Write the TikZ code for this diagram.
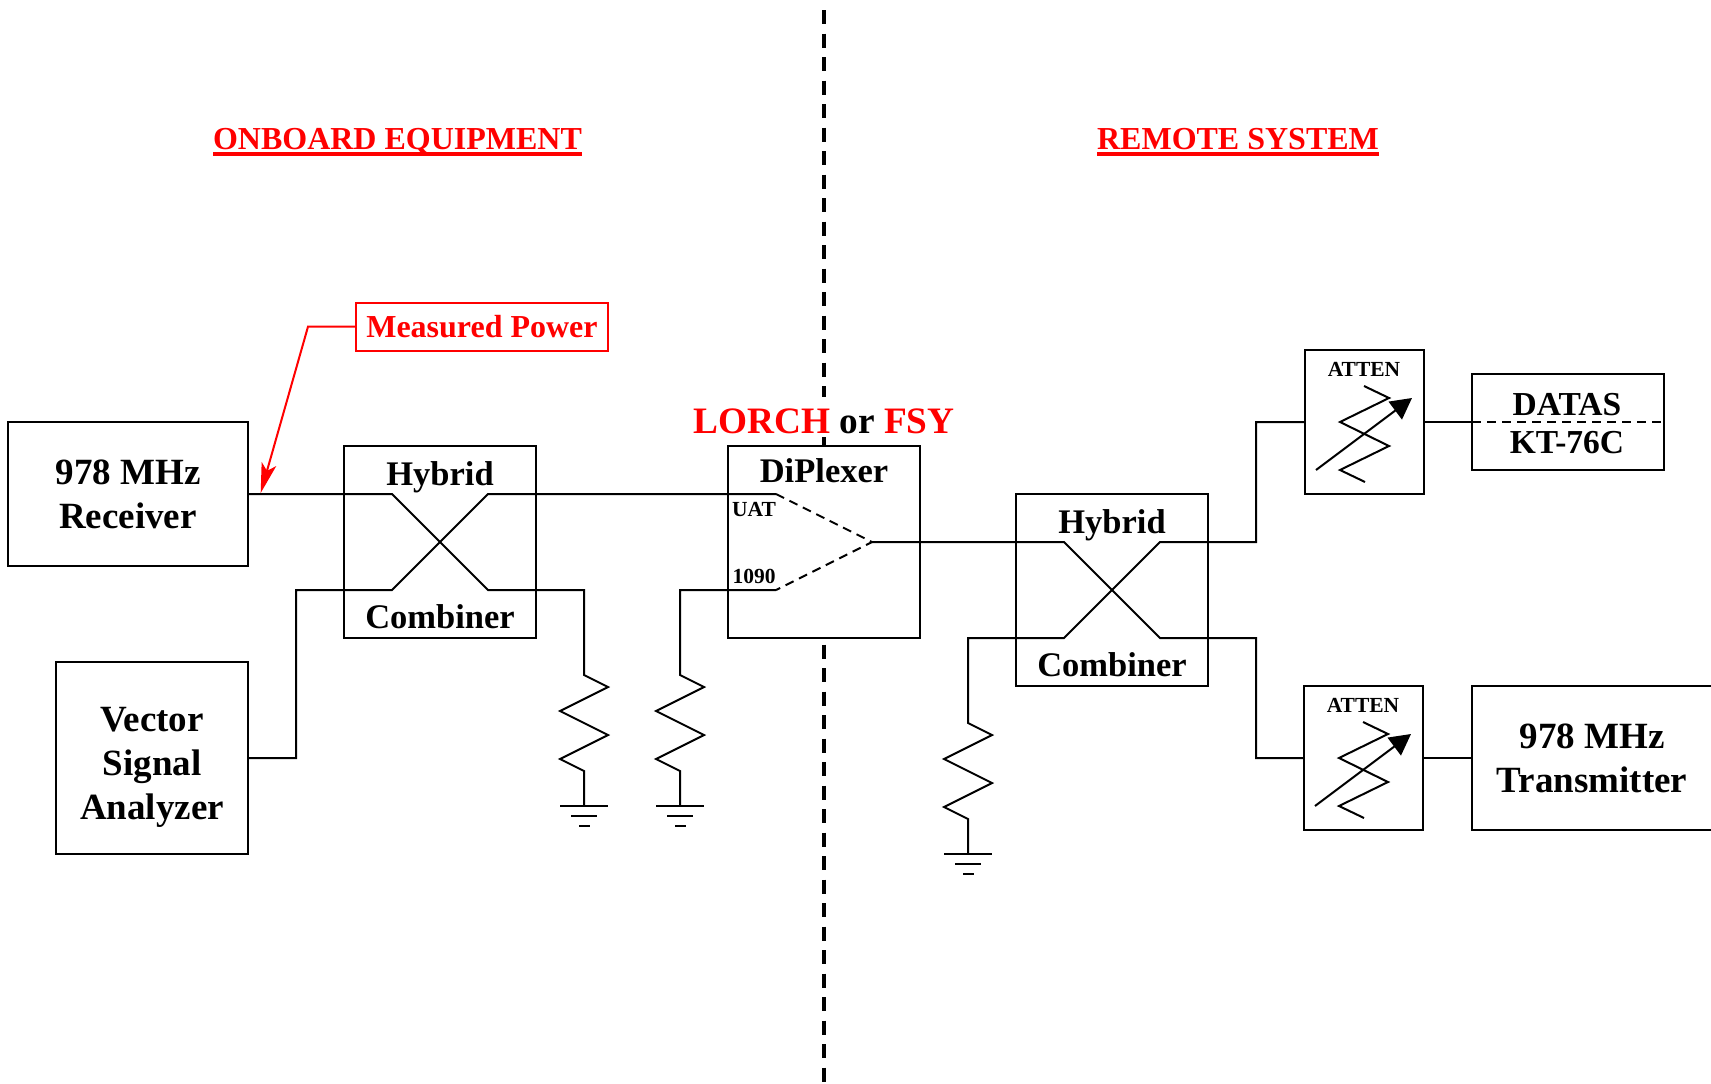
\documentclass[tikz,border=0pt]{standalone}
\usepackage{fontspec}
\setmainfont{Liberation Serif}
\usetikzlibrary{arrows.meta}
\newcommand{\fsz}[2]{\fontsize{#1}{#2}\selectfont\bfseries}
\newcommand{\redul}[1]{\setbox0=\hbox{#1}\rlap{\vrule width\wd0 height -3pt depth 6.7pt}\box0 }
\tikzset{
  blk/.style={draw=black,line width=2pt,fill=white,inner sep=0pt,outer sep=0pt,align=center,font=\fsz{37}{44}},
  lab/.style={anchor=base,inner sep=0pt,outer sep=0pt,font=\fsz{34.5}{44}},
  tiny/.style={anchor=base,inner sep=0pt,outer sep=0pt,font=\fsz{21.5}{24}},
  wire/.style={draw=black,line width=2pt,line join=miter},
  dsh/.style={draw=black,line width=2pt,dash pattern=on 9pt off 6pt},
  border/.style={draw=black,line width=3.5pt,dash pattern=on 14pt off 9.5pt},
  redtxt/.style={anchor=base,text=red,inner sep=0pt,outer sep=0pt,font=\fsz{32}{36}},
  atten/.style={draw=black,line width=2pt,fill=white,inner sep=0pt,outer sep=0pt,minimum width=119pt,minimum height=144pt},
  gnd/.style={draw=black,line width=2pt}
}
\begin{document}
\begin{tikzpicture}[x=1pt,y=-1pt]
\useasboundingbox (0,0) rectangle (1711,1084);
\coordinate (bt) at (824,10);
\coordinate (bb) at (824,1084);
\draw[border] (bt) -- (bb);
\node[redtxt] (onboard) at (397.5,149) {\redul{ONBOARD EQUIPMENT}};
\node[redtxt] (remote) at (1238,149) {\redul{REMOTE SYSTEM}};
% boxes
\node[blk,minimum width=240pt,minimum height=144pt] (rx) at (128,494) {978 MHz\\Receiver};
\node[blk,minimum width=192pt,minimum height=192pt] (vsa) at (152,758) {};
\node[inner sep=0pt,outer sep=0pt,align=center,font=\fsz{37}{44}] (vsat) at (152,767) {Vector\\Signal\\Analyzer};
\node[blk,minimum width=192pt,minimum height=192pt] (h1) at (440,542) {};
\node[blk,minimum width=192pt,minimum height=192pt] (dp) at (824,542) {};
\node[blk,minimum width=192pt,minimum height=192pt] (h2) at (1112,590) {};
\node[atten] (a1) at (1364.5,422) {};
\node[atten] (a2) at (1363.5,758) {};
\node[blk,minimum width=192pt,minimum height=96pt] (datas) at (1568,422) {};
\node[blk,minimum width=240pt,minimum height=144pt] (tx) at (1592,758) {978 MHz\\Transmitter};
\node[draw=red,line width=2pt,inner sep=0pt,outer sep=0pt,minimum width=252pt,minimum height=48pt,text=red,font=\fsz{32}{36}] (mp) at (482,326.7) {Measured Power};
\node[lab,fill=white,text height=36pt,text depth=4pt,font=\fsz{37.3}{40}] (lorch) at (824,433) {\textcolor{red}{LORCH} or \textcolor{red}{FSY}};
% labels
\node[lab] (h1t) at (440,485) {Hybrid};
\node[lab] (h1b) at (440,628) {Combiner};
\node[lab] (dpt) at (824,482) {DiPlexer};
\node[lab] (h2t) at (1112,533) {Hybrid};
\node[lab] (h2b) at (1112,676) {Combiner};
\node[lab,font=\fsz{33.5}{44}] (d1) at (1567,415) {DATAS};
\node[lab,font=\fsz{33.5}{44}] (d2) at (1567,453) {KT-76C};
\node[tiny] (uat) at (754,516.7) {UAT};
\node[tiny] (k1090) at (754,583) {1090};
\node[tiny] (at1) at (1364,376.7) {ATTEN};
\node[tiny] (at2) at (1363,712.7) {ATTEN};
% hybrid 1 wiring
\coordinate (p1) at (392,494);
\coordinate (p2) at (488,590);
\coordinate (p3) at (392,590);
\coordinate (p4) at (488,494);
\coordinate (r1) at (584,590);
\coordinate (v1) at (296,758);
\coordinate (v2) at (296,590);
\coordinate (du) at (776,494);
\coordinate (dl) at (776,590);
\coordinate (dm) at (872,542);
\coordinate (r2) at (680,590);
\draw[wire] (rx.east) -- (p1) -- (p2) -- (r1) -- (584,675) -- (608,687) -- (560,711) -- (608,735) -- (560,759) -- (584,771) -- (584,806);
\draw[wire] (vsa.east) -- (v1) -- (v2) -- (p3) -- (p4) -- (du);
\draw[wire] (dl) -- (r2) -- (680,675) -- (704,687) -- (656,711) -- (704,735) -- (656,759) -- (680,771) -- (680,806);
\draw[dsh] (du) -- (dm) -- (dl);
% hybrid 2 wiring
\coordinate (q1) at (1064,542);
\coordinate (q2) at (1160,638);
\coordinate (q3) at (1064,638);
\coordinate (q4) at (1160,542);
\draw[wire] (dm) -- (q1) -- (q2) -- (1256,638) -- (1256,758) -- (a2.west);
\draw[wire] (a1.west) -- (1256,422) -- (1256,542) -- (q4) -- (q3) -- (968,638) -- (968,723) -- (992,735) -- (944,759) -- (992,783) -- (944,807) -- (968,819) -- (968,854);
\draw[wire] (a1.east) -- (datas.west);
\draw[dsh] (datas.west) -- (datas.east);
\draw[wire] (a2.east) -- (tx.west);
% grounds
\foreach \n/\x/\y in {g1/584/806,g2/680/806,g3/968/854}{
  \coordinate (\n) at (\x,\y);
  \draw[gnd] ([xshift=-24pt]\n) -- ([xshift=24pt]\n);
  \draw[gnd] ([xshift=-13pt,yshift=-10pt]\n) -- ([xshift=13pt,yshift=-10pt]\n);
  \draw[gnd] ([xshift=-5pt,yshift=-19.5pt]\n) -- ([xshift=6pt,yshift=-19.5pt]\n);
}
% attenuators
\draw[wire] (1364,386) -- (1389,398) -- (1340,422) -- (1389,446) -- (1340,470) -- (1365,482);
\draw[wire,-{Triangle[length=21pt,width=22pt]}] (1316,470) -- (1412,398);
\draw[wire] (1363,722) -- (1388,734) -- (1339,758) -- (1388,782) -- (1339,806) -- (1364,818);
\draw[wire,-{Triangle[length=21pt,width=22pt]}] (1315,806) -- (1411,734);
% measured power arrow
\coordinate (mk) at (308,326.7);
\coordinate (tip) at (260.7,493);
\draw[draw=red,line width=2pt,-{Stealth[length=30pt,width=15pt,inset=7pt]}] (mp.west) -- (mk) -- (tip);
\end{tikzpicture}
\end{document}
